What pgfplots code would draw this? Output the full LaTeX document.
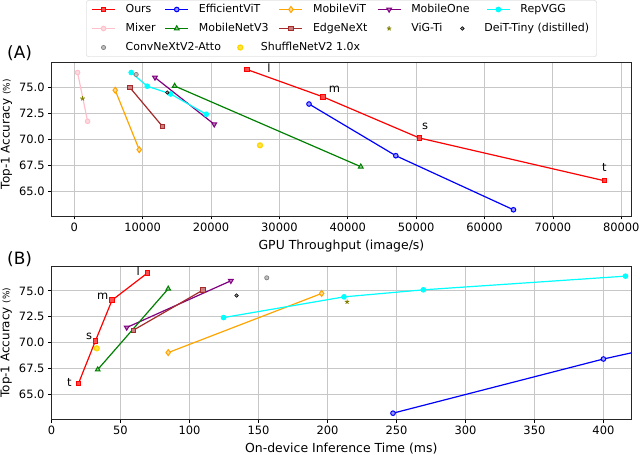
\documentclass[border=0pt]{standalone}
\usepackage{fontspec}
\setmainfont{DejaVu Sans}
\usepackage{pgfplots}
\pgfplotsset{compat=1.18}
\definecolor{cOurs}{RGB}{255,0,0}
\definecolor{cEff}{RGB}{0,0,255}
\definecolor{cMViT}{RGB}{255,165,0}
\definecolor{cMOne}{RGB}{128,0,128}
\definecolor{cRep}{RGB}{0,255,255}
\definecolor{cMixer}{RGB}{255,192,203}
\definecolor{cMNV3}{RGB}{0,128,0}
\definecolor{cEdge}{RGB}{165,42,42}
\definecolor{cViG}{RGB}{128,128,0}
\definecolor{cDeiT}{RGB}{0,0,0}
\definecolor{cConv}{RGB}{128,128,128}
\definecolor{cShuf}{RGB}{255,215,0}
\pgfplotsset{
  myax/.style={
    scale only axis, width=579.5bp, height=153.3bp,
    axis line style={black!85, line width=0.8bp},
    grid=major, major grid style={black!22, line width=1bp},
    tick align=outside, xtick pos=bottom, ytick pos=left,
    major tick length=3.5bp, tick style={black, line width=0.8bp},
    tick label style={font=\fontsize{11.5}{13}\selectfont},
    /pgf/number format/assume math mode=true,
    ymin=62.6, ymax=77.4, ytick={65,67.5,70,72.5,75},
    yticklabel style={/pgf/number format/fixed, /pgf/number format/fixed zerofill, /pgf/number format/precision=1},
    xlabel style={at={(axis description cs:0.5,0)}, anchor=base, yshift=-33.3bp, font=\fontsize{12.5}{14}\selectfont},
    every axis plot/.append style={line width=1.2bp},
  },
  stdleg/.style={legend image code/.code={\path (0bp,0bp) (23bp,0bp); \draw[mark repeat=2,mark phase=2,##1] plot coordinates {(0bp,0bp) (11.5bp,0bp) (23bp,0bp)};}},
  repleg/.style={legend image code/.code={\path (0bp,0bp) (23bp,0bp); \draw[overlay,mark repeat=2,mark phase=2,##1] plot coordinates {(36bp,0bp) (47.5bp,0bp) (59bp,0bp)};}},
  shufleg/.style={legend image code/.code={\path (0bp,0bp) (23bp,0bp); \draw[overlay,mark repeat=2,mark phase=2,##1] plot coordinates {(63.5bp,0bp) (75bp,0bp) (86.5bp,0bp)};}},
  pOurs/.style={color=cOurs, mark=square*, mark size=2.2bp, mark options={solid, line width=1bp, fill=cOurs!70}},
  pEff/.style={color=cEff, mark=*, mark size=2.3bp, mark options={solid, line width=1bp, fill=cEff!40}},
  pMViT/.style={color=cMViT, mark=diamond*, mark size=3bp, mark options={solid, line width=1bp, fill=cMViT!40}},
  pMOne/.style={color=cMOne, mark=triangle*, mark size=2.7bp, mark options={solid, line width=1bp, rotate=180, fill=cMOne!50}},
  pRep/.style={color=cRep, mark=*, mark size=2.3bp, mark options={solid, line width=1bp, fill=cRep}},
  pMixer/.style={color=cMixer, mark=*, mark size=2.3bp, mark options={solid, line width=1bp, fill=cMixer!60}},
  pMNV3/.style={color=cMNV3, mark=triangle*, mark size=2.7bp, mark options={solid, line width=1bp, fill=cMNV3!40}},
  pEdge/.style={color=cEdge, mark=square*, mark size=2.2bp, mark options={solid, line width=1bp, fill=cEdge!60}},
  pViG/.style={only marks, color=cViG, mark=star, mark size=2.3bp, mark options={solid, line width=0.9bp}},
  pDeiT/.style={only marks, color=cDeiT, mark=*, mark size=1.8bp, mark options={solid, fill=black!40, line width=0.6bp}},
  pConv/.style={only marks, color=cConv, mark=*, mark size=2.1bp, mark options={solid, fill=cConv!50, line width=0.7bp}},
  pShuf/.style={only marks, color=cShuf, mark=*, mark size=2.5bp, mark options={solid, fill=cShuf!70}},
}
\begin{document}
\begin{tikzpicture}[x=1bp,y=1bp]
\useasboundingbox (0,0) rectangle (640,455);
% ---------------- (A) ----------------
\begin{axis}[myax, stdleg,
  at={(51.7bp,239bp)}, anchor=south west,
  xmin=-3300, xmax=81450,
  xtick={0,10000,20000,30000,40000,50000,60000,70000,80000},
  scaled x ticks=false,
  xticklabel style={/pgf/number format/1000 sep={}},
  xlabel={GPU Throughput (image/s)},
  ylabel={{\fontsize{12}{14}\selectfont Top-1 Accuracy }{\fontsize{9}{10}\selectfont(\%)}},
  ylabel style={at={(axis description cs:-0.0725,0.533)}, anchor=base, rotate=0},
  legend columns=5,
  legend cell align=left,
  legend style={at={(axis description cs:0.5,1.039)}, anchor=south,
    draw=black!20, rounded corners=2bp, inner xsep=5bp, inner ysep=2.5bp,
    font=\fontsize{11}{13}\selectfont,
    nodes={inner sep=1bp, text height=8.5bp, text depth=2.5bp},
    row sep=6bp,
    /tikz/every odd column/.append style={column sep=9bp},
    /tikz/every even column/.append style={column sep=0bp}},
]
\addplot[pOurs] coordinates {(25260,76.74) (36380,74.10) (50480,70.13) (77550,66.00)};
\addlegendentry{\makebox[38bp][l]{Ours}}
\addplot[pEff] coordinates {(34330,73.41) (47020,68.42) (64230,63.20)};
\addlegendentry{\makebox[79bp][l]{EfficientViT}}
\addplot[pMViT] coordinates {(5990,74.74) (9500,69.00)};
\addlegendentry{\makebox[63bp][l]{MobileViT}}
\addplot[pMOne] coordinates {(11800,75.97) (20470,71.45)};
\addlegendentry{\makebox[38bp][l]{MobileOne}}
\addplot[pRep, repleg] coordinates {(8330,76.45) (10670,75.13) (14090,74.38) (19300,72.42)};
\addlegendentry{\makebox[106bp][l]{\hspace{36bp}RepVGG}}
\addplot[pMixer] coordinates {(480,76.45) (1950,71.74)};
\addlegendentry{\makebox[38bp][l]{Mixer}}
\addplot[pMNV3] coordinates {(14680,75.15) (41900,67.36)};
\addlegendentry{\makebox[79bp][l]{MobileNetV3}}
\addplot[pEdge] coordinates {(8140,75.00) (12920,71.23)};
\addlegendentry{\makebox[63bp][l]{EdgeNeXt}}
\addplot[pViG] coordinates {(1210,73.94)};
\addlegendentry{\makebox[38bp][l]{ViG-Ti}}
\addplot[pDeiT] coordinates {(13600,74.52)};
\addlegendentry{\makebox[106bp][l]{DeiT-Tiny (distilled)}}
\addplot[pConv] coordinates {(9060,76.26)};
\addlegendentry{\makebox[38bp][l]{ConvNeXtV2-Atto}}
\addplot[pShuf, shufleg] coordinates {(27160,69.42)};
\addlegendentry{\makebox[79bp][l]{\hspace{62bp}ShuffleNetV2 1.0x}}
\node[anchor=base, font=\fontsize{11.5}{13}\selectfont] at (axis cs:28480,76.45) {l};
\node[anchor=base, font=\fontsize{11.5}{13}\selectfont] at (axis cs:38040,74.52) {m};
\node[anchor=base, font=\fontsize{11.5}{13}\selectfont] at (axis cs:51310,70.97) {s};
\node[anchor=base, font=\fontsize{11.5}{13}\selectfont] at (axis cs:77510,66.90) {t};
\end{axis}
% ---------------- (B) ----------------
\begin{axis}[myax,
  at={(51.5bp,35.7bp)}, anchor=south west,
  xmin=0, xmax=420,
  xtick={0,50,100,150,200,250,300,350,400},
  xlabel={On-device Inference Time (ms)},
  ylabel={{\fontsize{12}{14}\selectfont Top-1 Accuracy }{\fontsize{9}{10}\selectfont(\%)}},
  ylabel style={at={(axis description cs:-0.0725,0.5)}, anchor=base, rotate=0},
]
\addplot[pOurs] coordinates {(19.5,66.04) (31.8,70.16) (43.9,74.10) (69.7,76.74)};
\addplot[pEff] coordinates {(247.5,63.19) (400,68.42) (570,73.41)};
\addplot[pMViT] coordinates {(84.6,69.04) (195.8,74.75)};
\addplot[pMOne] coordinates {(54.5,71.46) (130,75.97)};
\addplot[pRep] coordinates {(124.7,72.42) (212,74.42) (269.5,75.10) (416,76.42)};
\addplot[pMNV3] coordinates {(33.5,67.40) (84.6,75.20)};
\addplot[pEdge] coordinates {(59.3,71.20) (109.7,75.07)};
\addplot[pViG] coordinates {(214.2,73.94)};
\addplot[pDeiT] coordinates {(134.1,74.55)};
\addplot[pConv] coordinates {(156,76.26)};
\addplot[pShuf] coordinates {(32.8,69.45)};
\node[anchor=base, font=\fontsize{11.5}{13}\selectfont] at (axis cs:62.9,76.49) {l};
\node[anchor=base, font=\fontsize{11.5}{13}\selectfont] at (axis cs:37.1,74.17) {m};
\node[anchor=base, font=\fontsize{11.5}{13}\selectfont] at (axis cs:27.2,70.35) {s};
\node[anchor=base, font=\fontsize{11.5}{13}\selectfont] at (axis cs:13.0,65.77) {t};
\end{axis}
\node[anchor=base west, inner sep=0pt, font=\fontsize{17}{19}\selectfont] at (7,396) {(A)};
\node[anchor=base west, inner sep=0pt, font=\fontsize{17}{19}\selectfont] at (7,190) {(B)};
\end{tikzpicture}
\end{document}
